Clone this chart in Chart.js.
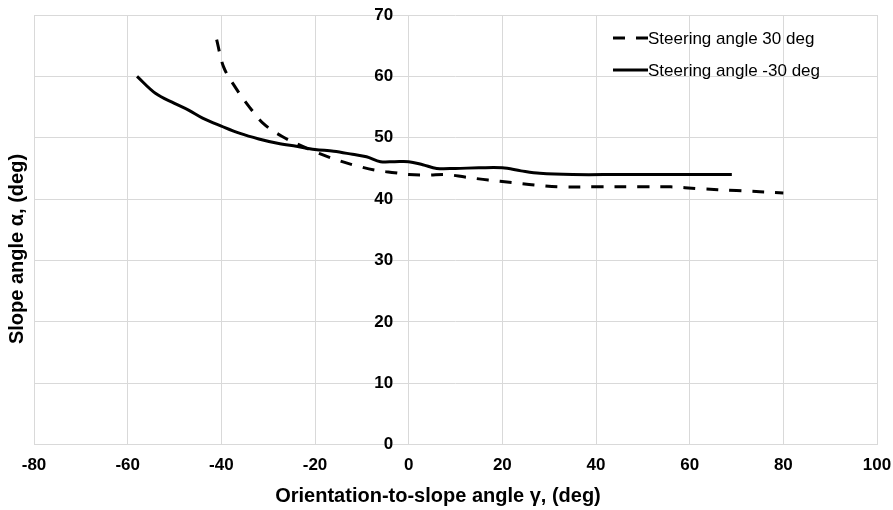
<!DOCTYPE html>
<html>
<head>
<meta charset="utf-8">
<script src="https://cdn.jsdelivr.net/npm/chart.js@4/dist/chart.umd.min.js"></script>
<style>
  html, body { margin: 0; padding: 0; background: #ffffff; }
  #wrap { width: 893px; height: 510px; }
</style>
</head>
<body>
<div id="wrap"><canvas id="chart" width="893" height="510"></canvas></div>
<script>
// Orientation-to-slope angle γ (deg) and limiting slope angle α (deg)
const seriesLabels = ['Steering angle 30 deg', 'Steering angle -30 deg'];

const gammaSteer30 = [-41, -39.5, -37, -34, -31, -27, -23, -19, -15, -11, -7, -3, 0, 4, 8, 12, 17, 22, 27, 32, 40, 50, 56, 62, 70, 80];
const alphaSteer30 = [66.0, 61.5, 58.2, 55.0, 52.3, 50.2, 48.7, 47.4, 46.3, 45.4, 44.7, 44.3, 44.0, 43.9, 44.0, 43.6, 43.1, 42.7, 42.3, 42.0, 42.0, 42.0, 42.0, 41.7, 41.4, 41.0];

const gammaSteerNeg30 = [-58, -54, -50, -47, -44, -40, -36, -32, -28, -24, -20, -16, -12, -9, -6, -3, 0, 3, 6, 10, 15, 20, 24, 28, 35, 45, 55, 69];
const alphaSteerNeg30 = [60.0, 57.2, 55.6, 54.5, 53.2, 51.9, 50.7, 49.8, 49.1, 48.6, 48.1, 47.8, 47.3, 46.9, 46.1, 46.1, 46.1, 45.6, 45.0, 45.0, 45.1, 45.1, 44.6, 44.2, 44.0, 44.0, 44.0, 44.0];

const xTicks = [-80, -60, -40, -20, 0, 20, 40, 60, 80, 100];
const yTicks = [0, 10, 20, 30, 40, 50, 60, 70];

const xTitle = 'Orientation-to-slope angle γ, (deg)';
const yTitle = 'Slope angle α, (deg)';

const FONT = "'Liberation Sans', Arial, sans-serif";
const GRID = '#d9d9d9';

const toPoints = (xs, ys) => xs.map((x, i) => ({ x: x, y: ys[i] }));

// Axis titles and the legend box, painted over the plot
const annotate = {
  id: 'annotate',
  afterDraw(chart) {
    const ctx = chart.ctx;
    const area = chart.chartArea;
    ctx.save();
    ctx.fillStyle = '#000000';

    // x title
    ctx.font = 'bold 20px ' + FONT;
    ctx.textAlign = 'center';
    ctx.textBaseline = 'middle';
    ctx.fillText(xTitle, 438, 496);

    // y title
    ctx.save();
    ctx.translate(17, 249);
    ctx.rotate(-Math.PI / 2);
    ctx.fillText(yTitle, 0, 0);
    ctx.restore();

    // legend
    ctx.font = '17px ' + FONT;
    ctx.textAlign = 'left';
    const left = area.right - 264;
    const rows = [area.top + 23, area.top + 55];
    chart.data.datasets.forEach((ds, i) => {
      const y = rows[i];
      ctx.save();
      ctx.strokeStyle = ds.borderColor;
      ctx.lineWidth = ds.borderWidth;
      ctx.lineCap = 'butt';
      ctx.setLineDash(ds.borderDash || []);
      ctx.beginPath();
      ctx.moveTo(left, y);
      ctx.lineTo(left + 35, y);
      ctx.stroke();
      ctx.restore();
      ctx.fillText(ds.label, left + 35, y + 1);
    });
    ctx.restore();
  }
};

new Chart(document.getElementById('chart'), {
  type: 'line',
  data: {
    datasets: [
      {
        label: seriesLabels[0],
        data: toPoints(gammaSteer30, alphaSteer30),
        borderColor: '#000000',
        borderWidth: 3,
        borderDash: [12, 11],
        pointRadius: 0,
        tension: 0.35,
        fill: false
      },
      {
        label: seriesLabels[1],
        data: toPoints(gammaSteerNeg30, alphaSteerNeg30),
        borderColor: '#000000',
        borderWidth: 3,
        pointRadius: 0,
        tension: 0.35,
        fill: false
      }
    ]
  },
  options: {
    responsive: false,
    animation: false,
    layout: { padding: { left: 34, right: 16, top: 15, bottom: 34 } },
    plugins: {
      legend: { display: false },
      tooltip: { enabled: false }
    },
    scales: {
      x: {
        type: 'linear',
        position: 'bottom',
        min: -80,
        max: 100,
        afterBuildTicks: (scale) => { scale.ticks = xTicks.map(v => ({ value: v })); },
        grid: { color: GRID, lineWidth: 1, drawTicks: true, tickLength: 11, tickColor: 'rgba(0,0,0,0)' },
        border: { color: GRID, width: 1 },
        ticks: {
          color: '#000000',
          padding: 0,
          maxRotation: 0,
          font: { family: FONT, size: 17, weight: 'bold' }
        }
      },
      y: {
        type: 'linear',
        // labels sit just left of the γ = 0 line, which the x grid draws
        position: { x: -3.3 },
        min: 0,
        max: 70,
        afterBuildTicks: (scale) => { scale.ticks = yTicks.map(v => ({ value: v })); },
        grid: { color: GRID, lineWidth: 1, drawTicks: false },
        border: { display: false },
        ticks: {
          color: '#000000',
          padding: 0,
          font: { family: FONT, size: 17, weight: 'bold' }
        }
      }
    }
  },
  plugins: [annotate]
});
</script>
</body>
</html>
